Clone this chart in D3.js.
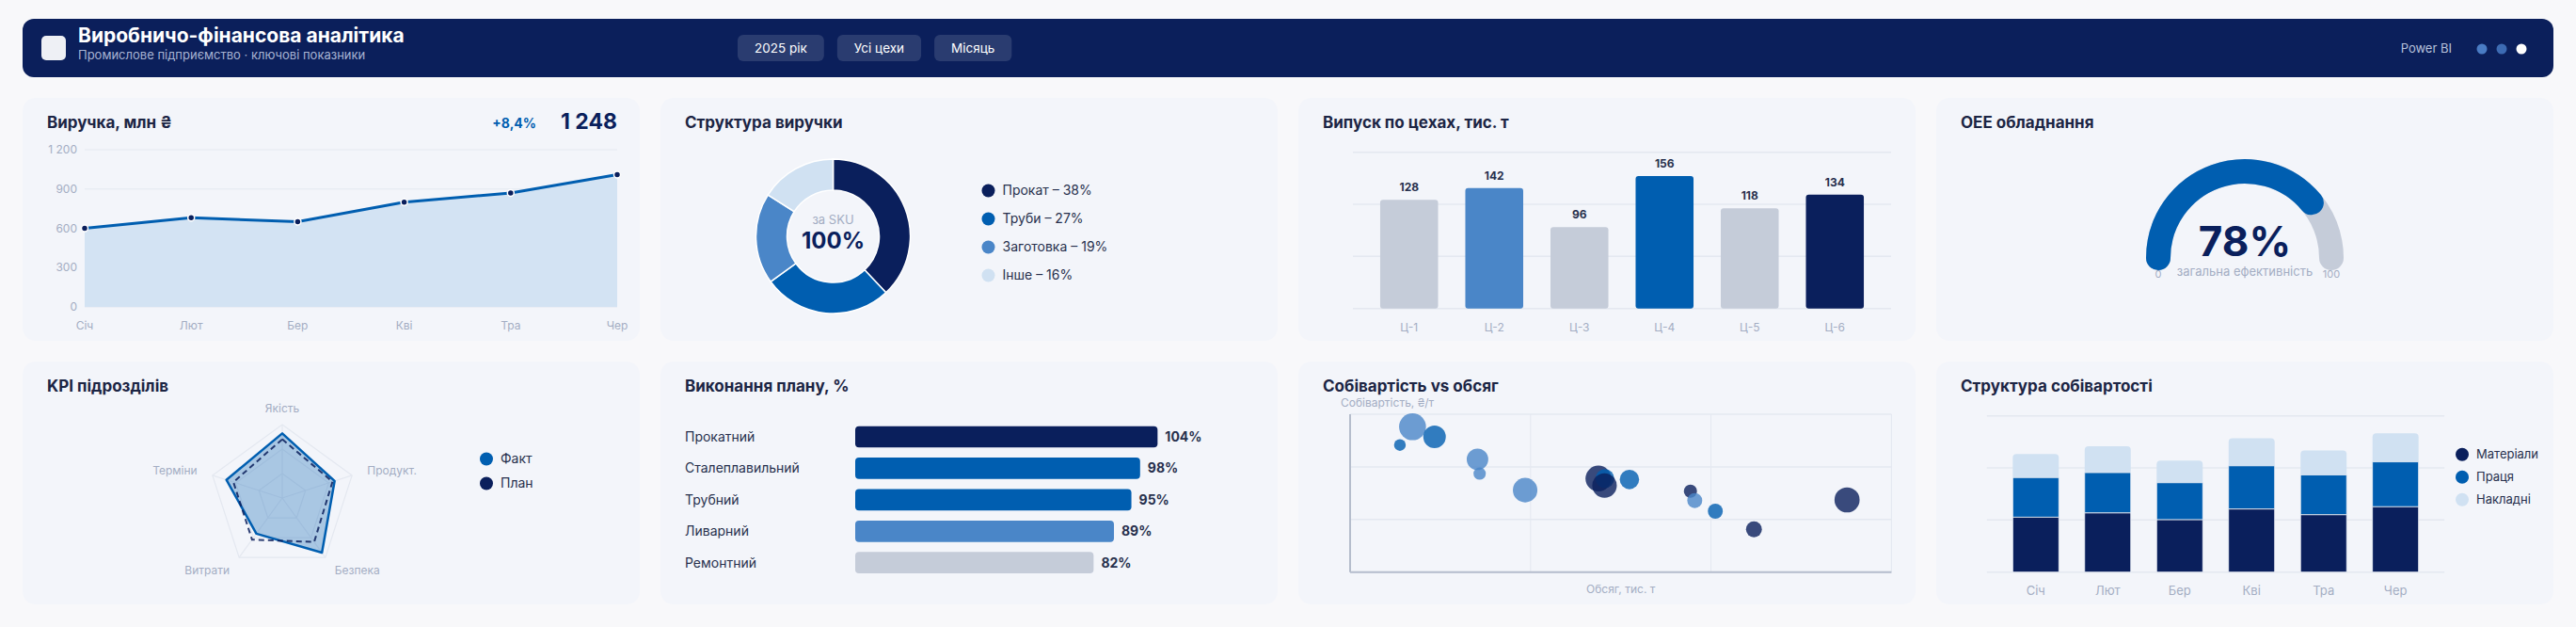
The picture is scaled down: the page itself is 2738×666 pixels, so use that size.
<!DOCTYPE html>
<html>
<head>
<meta charset="utf-8">
<script src="https://cdn.jsdelivr.net/npm/d3@7"></script>
<style>
  body { margin: 0; background: #f8f8fa; }
  text { font-family: Inter, "Noto Sans", sans-serif; }
</style>
</head>
<body>
<script>
// ---- data ----
var filters = ["2025 рік", "Усі цехи", "Місяць"];

var months = ["Січ", "Лют", "Бер", "Кві", "Тра", "Чер"];
var revenue = [600, 680, 650, 800, 870, 1010];
var revTicks = [0, 300, 600, 900, 1200];

var mixLabels = ["Прокат", "Труби", "Заготовка", "Інше"];
var mixShare = [38, 27, 19, 16];

var shops = ["Ц-1", "Ц-2", "Ц-3", "Ц-4", "Ц-5", "Ц-6"];
var shopOutput = [128, 142, 96, 156, 118, 134];

var oee = 78;

var kpiAxes = ["Якість", "Продукт.", "Безпека", "Витрати", "Терміни"];
var kpiFact = [88, 75, 92, 60, 80];
var kpiPlan = [80, 72, 74, 70, 70];

var depts = ["Прокатний", "Сталеплавильний", "Трубний", "Ливарний", "Ремонтний"];
var planDone = [104, 98, 95, 89, 82];

// bubbles: volume (тис. т), cost (₴/т), weight, group
var bubVolume = [17.3, 23.4, 13.8, 35.3, 35.9, 48.5, 68.8, 70.6, 70.5, 77.4, 94.3, 95.5, 101.2, 111.9, 137.7];
var bubCost   = [21050, 20280, 19660, 18570, 17490, 16230, 17110, 17110, 16580, 17040, 16150, 15440, 14630, 13250, 15490];
var bubWeight = [100, 70, 19, 64, 21, 83, 92, 49, 83, 52, 24, 31, 31, 35, 87];
var bubGroup  = [0, 1, 1, 0, 0, 0, 2, 1, 2, 1, 2, 0, 1, 2, 2];

var costSeries = ["Матеріали", "Праця", "Накладні"];
var costMaterials = [211, 227, 201, 242, 220, 251];
var costLabor     = [152, 155, 142, 166, 153, 172];
var costOverhead  = [90, 101, 85, 106, 94, 110];

// ---- palette ----
var NAVY = "#0a1f5c", BLUE = "#005eb0", MID = "#4a86c8", PALE = "#d0e1f2", GREY = "#c5ccd9";
var TITLE = "#1c2544", MUTED = "#a3adc3", TEXT = "#27304d", GRID = "#e4e8f0";

var W = 2738, H = 666;
var svg = d3.select("body").append("svg").attr("width", W).attr("height", H);

// ---- header ----
svg.append("rect").attr("x", 24).attr("y", 20).attr("width", 2690).attr("height", 62)
  .attr("rx", 12).attr("fill", "#0b1f5b");
svg.append("rect").attr("x", 44).attr("y", 38).attr("width", 26).attr("height", 26)
  .attr("rx", 5).attr("fill", "#eef0f5");
svg.append("text").attr("x", 83).attr("y", 45).attr("fill", "#fff")
  .attr("font-size", 21).attr("font-weight", 700).text("Виробничо-фінансова аналітика");
svg.append("text").attr("x", 83).attr("y", 63).attr("fill", "#a8b4d3")
  .attr("font-size", 13).text("Промислове підприємство · ключові показники");

var px = 784;
filters.forEach(function(f) {
  var g = svg.append("g");
  var r = g.append("rect").attr("y", 37).attr("height", 28).attr("rx", 6)
    .attr("fill", "rgba(255,255,255,0.13)");
  var t = g.append("text").attr("y", 56).attr("fill", "#fff").attr("font-size", 13.5)
    .attr("text-anchor", "middle").text(f);
  var tw = t.node().getComputedTextLength() + 36;
  r.attr("x", px).attr("width", tw);
  t.attr("x", px + tw / 2);
  px += tw + 14;
});

svg.append("text").attr("x", 2606).attr("y", 56).attr("text-anchor", "end")
  .attr("fill", "#b8c2dc").attr("font-size", 13).text("Power BI");
svg.selectAll("circle.hd").data(["#4a7cc4", "#3d6bb3", "#ffffff"]).enter()
  .append("circle").attr("class", "hd")
  .attr("cx", function(d, i) { return 2638 + i * 21; }).attr("cy", 52).attr("r", 5.5)
  .attr("fill", function(d) { return d; });

// ---- cards ----
var colX = [24, 702, 1380, 2058], rowY = [104, 384], CW = 656, CH = 258;
function card(col, row, title) {
  var g = svg.append("g").attr("transform", "translate(" + colX[col] + "," + rowY[row] + ")");
  g.append("rect").attr("width", CW).attr("height", CH).attr("rx", 14).attr("fill", "#f3f5fa");
  g.append("text").attr("x", 26).attr("y", 32).attr("fill", TITLE)
    .attr("font-size", 17).attr("font-weight", 700).text(title);
  return g;
}
function legend(g, x, y, step, labels, colors, size) {
  labels.forEach(function(l, i) {
    g.append("circle").attr("cx", x).attr("cy", y + i * step).attr("r", 7).attr("fill", colors[i]);
    g.append("text").attr("x", x + 15).attr("y", y + i * step).attr("dy", "0.35em")
      .attr("fill", TEXT).attr("font-size", size).text(l);
  });
}

// 1. revenue line
(function() {
  var g = card(0, 0, "Виручка, млн ₴");
  g.append("text").attr("x", 546).attr("y", 32).attr("text-anchor", "end")
    .attr("fill", BLUE).attr("font-size", 14).attr("font-weight", 700).text("+8,4%");
  g.append("text").attr("x", 632).attr("y", 33).attr("text-anchor", "end")
    .attr("fill", NAVY).attr("font-size", 23).attr("font-weight", 700).text("1 248");

  var x = d3.scalePoint().domain(months).range([66, 632]);
  var y = d3.scaleLinear().domain([0, 1200]).range([222, 55]);

  g.selectAll("line.grid").data(revTicks).enter().append("line")
    .attr("x1", 66).attr("x2", 632).attr("y1", y).attr("y2", y)
    .attr("stroke", GRID).attr("stroke-width", 1);
  g.selectAll("text.yt").data(revTicks).enter().append("text")
    .attr("x", 58).attr("y", y).attr("dy", "0.35em").attr("text-anchor", "end")
    .attr("fill", MUTED).attr("font-size", 12)
    .text(function(d) { return d3.format(",")(d).replace(",", " "); });
  g.selectAll("text.xt").data(months).enter().append("text")
    .attr("x", x).attr("y", 246).attr("text-anchor", "middle")
    .attr("fill", MUTED).attr("font-size", 12).text(function(d) { return d; });

  var pts = months.map(function(m, i) { return [m, revenue[i]]; });
  g.append("path").datum(pts).attr("fill", "#d3e3f3")
    .attr("d", d3.area().x(function(d) { return x(d[0]); }).y0(y(0)).y1(function(d) { return y(d[1]); }));
  g.append("path").datum(pts).attr("fill", "none").attr("stroke", BLUE).attr("stroke-width", 3)
    .attr("d", d3.line().x(function(d) { return x(d[0]); }).y(function(d) { return y(d[1]); }));
  g.selectAll("circle.pt").data(pts).enter().append("circle")
    .attr("cx", function(d) { return x(d[0]); }).attr("cy", function(d) { return y(d[1]); })
    .attr("r", 3.5).attr("fill", NAVY).attr("stroke", "#fff").attr("stroke-width", 1.5);
})();

// 2. revenue mix donut
(function() {
  var g = card(1, 0, "Структура виручки");
  var colors = [NAVY, BLUE, MID, PALE];
  var c = g.append("g").attr("transform", "translate(183.5,147)");
  var pie = d3.pie().sort(null).value(function(d) { return d; });
  var arc = d3.arc().innerRadius(49).outerRadius(82);
  c.selectAll("path").data(pie(mixShare)).enter().append("path")
    .attr("d", arc).attr("fill", function(d, i) { return colors[i]; })
    .attr("stroke", "#fff").attr("stroke-width", 1.5);
  c.append("text").attr("y", -13).attr("text-anchor", "middle").attr("fill", MUTED)
    .attr("font-size", 13).text("за SKU");
  c.append("text").attr("y", 13).attr("text-anchor", "middle").attr("fill", NAVY)
    .attr("font-size", 24).attr("font-weight", 700).text("100%");
  legend(g, 348.5, 98.5, 30, mixLabels.map(function(l, i) { return l + " – " + mixShare[i] + "%"; }), colors, 14);
})();

// 3. output by shop
(function() {
  var g = card(2, 0, "Випуск по цехах, тис. т");
  var colors = [GREY, MID, GREY, BLUE, GREY, NAVY];
  var x = d3.scaleBand().domain(shops).range([58, 630]).padding(0.32);
  var yMax = d3.max(shopOutput) * 1.18;
  var y = d3.scaleLinear().domain([0, yMax]).range([223.7, 57.7]);
  g.selectAll("line.grid").data([0, 1, 2, 3]).enter().append("line")
    .attr("x1", 58).attr("x2", 630)
    .attr("y1", function(k) { return y(yMax * k / 3); }).attr("y2", function(k) { return y(yMax * k / 3); })
    .attr("stroke", GRID).attr("stroke-width", 1.5);
  g.selectAll("rect.bar").data(shopOutput).enter().append("rect")
    .attr("x", function(d, i) { return x(shops[i]); }).attr("width", x.bandwidth())
    .attr("y", function(d) { return y(d); }).attr("height", function(d) { return y(0) - y(d); })
    .attr("rx", 3).attr("fill", function(d, i) { return colors[i]; });
  g.selectAll("text.val").data(shopOutput).enter().append("text")
    .attr("x", function(d, i) { return x(shops[i]) + x.bandwidth() / 2; })
    .attr("y", function(d) { return y(d) - 9; }).attr("text-anchor", "middle")
    .attr("fill", TEXT).attr("font-size", 12).attr("font-weight", 700).text(function(d) { return d; });
  g.selectAll("text.xt").data(shops).enter().append("text")
    .attr("x", function(d) { return x(d) + x.bandwidth() / 2; }).attr("y", 248)
    .attr("text-anchor", "middle").attr("fill", MUTED).attr("font-size", 12).text(function(d) { return d; });
})();

// 4. OEE gauge
(function() {
  var g = card(3, 0, "OEE обладнання");
  var c = g.append("g").attr("transform", "translate(328,170)");
  var a = d3.scaleLinear().domain([0, 100]).range([Math.PI, 2 * Math.PI]);
  function arcPath(v0, v1) {
    var p = d3.path();
    p.arc(0, 0, 92, a(v0), a(v1));
    return p.toString();
  }
  c.append("path").attr("d", arcPath(0, 100)).attr("fill", "none").attr("stroke", GREY)
    .attr("stroke-width", 26).attr("stroke-linecap", "round");
  c.append("path").attr("d", arcPath(0, oee)).attr("fill", "none").attr("stroke", BLUE)
    .attr("stroke-width", 26).attr("stroke-linecap", "round");
  c.append("text").attr("y", -2).attr("text-anchor", "middle").attr("fill", NAVY)
    .attr("font-size", 44).attr("font-weight", 700).text(oee + "%");
  c.append("text").attr("y", 19).attr("text-anchor", "middle").attr("fill", MUTED)
    .attr("font-size", 13).text("загальна ефективність");
  c.append("text").attr("x", -92).attr("y", 21).attr("text-anchor", "middle").attr("fill", MUTED)
    .attr("font-size", 11).text("0");
  c.append("text").attr("x", 92).attr("y", 21).attr("text-anchor", "middle").attr("fill", MUTED)
    .attr("font-size", 11).text("100");
})();

// 5. KPI radar
(function() {
  var g = card(0, 1, "KPI підрозділів");
  var c = g.append("g").attr("transform", "translate(276,145)");
  var r = d3.scaleLinear().domain([0, 100]).range([0, 78]);
  var ang = function(i) { return i * 2 * Math.PI / kpiAxes.length; };
  var radial = d3.lineRadial().angle(function(d, i) { return ang(i); })
    .radius(function(d) { return r(d); }).curve(d3.curveLinearClosed);

  [100 / 3, 200 / 3, 100].forEach(function(lv) {
    c.append("path").attr("d", radial(kpiAxes.map(function() { return lv; })))
      .attr("fill", "none").attr("stroke", GRID).attr("stroke-width", 1.2);
  });
  kpiAxes.forEach(function(k, i) {
    c.append("line").attr("x1", 0).attr("y1", 0)
      .attr("x2", Math.sin(ang(i)) * r(100)).attr("y2", -Math.cos(ang(i)) * r(100))
      .attr("stroke", GRID).attr("stroke-width", 1.2);
    var s = Math.sin(ang(i));
    c.append("text").attr("x", s * 95).attr("y", -Math.cos(ang(i)) * 95).attr("dy", "0.35em")
      .attr("text-anchor", Math.abs(s) < 0.1 ? "middle" : (s > 0 ? "start" : "end"))
      .attr("fill", MUTED).attr("font-size", 12).text(k);
  });
  c.append("path").attr("d", radial(kpiFact)).attr("fill", BLUE).attr("fill-opacity", 0.3)
    .attr("stroke", BLUE).attr("stroke-width", 2.5).attr("stroke-linejoin", "round");
  c.append("path").attr("d", radial(kpiPlan)).attr("fill", "none")
    .attr("stroke", NAVY).attr("stroke-opacity", 0.85).attr("stroke-width", 2)
    .attr("stroke-dasharray", "6,4");
  legend(g, 493, 103.5, 26, ["Факт", "План"], [BLUE, NAVY], 14);
})();

// 6. plan completion
(function() {
  var g = card(1, 1, "Виконання плану, %");
  var colors = [NAVY, BLUE, BLUE, MID, GREY];
  var y = d3.scaleBand().domain(depts).range([63.3, 230.4]).paddingInner(0.32).paddingOuter(0.16);
  var x = d3.scaleLinear().domain([0, 100]).range([0, 309]);
  var x0 = 207;
  g.selectAll("text.lab").data(depts).enter().append("text")
    .attr("x", 26).attr("y", function(d) { return y(d) + y.bandwidth() / 2; }).attr("dy", "0.35em")
    .attr("fill", TEXT).attr("font-size", 14).text(function(d) { return d; });
  g.selectAll("rect.bar").data(planDone).enter().append("rect")
    .attr("x", x0).attr("y", function(d, i) { return y(depts[i]); })
    .attr("width", function(d) { return x(d); }).attr("height", y.bandwidth())
    .attr("rx", 4).attr("fill", function(d, i) { return colors[i]; });
  g.selectAll("text.val").data(planDone).enter().append("text")
    .attr("x", function(d) { return x0 + x(d) + 8; })
    .attr("y", function(d, i) { return y(depts[i]) + y.bandwidth() / 2; }).attr("dy", "0.35em")
    .attr("fill", TEXT).attr("font-size", 14).attr("font-weight", 700).text(function(d) { return d + "%"; });
})();

// 7. cost vs volume bubbles
(function() {
  var g = card(2, 1, "Собівартість vs обсяг");
  var colors = [MID, BLUE, NAVY];
  var x = d3.scaleLinear().domain([0, 150]).range([55, 630.4]);
  var y = d3.scaleLinear().domain([10000, 22000]).range([223.7, 56]);
  var s = d3.scaleSqrt().domain([0, 100]).range([0, 14.3]);
  [0, 50, 100, 150].forEach(function(v) {
    g.append("line").attr("x1", x(v)).attr("x2", x(v)).attr("y1", y(10000)).attr("y2", y(22000))
      .attr("stroke", GRID).attr("stroke-width", 1);
  });
  [10000, 14000, 18000, 22000].forEach(function(v) {
    g.append("line").attr("x1", x(0)).attr("x2", x(150)).attr("y1", y(v)).attr("y2", y(v))
      .attr("stroke", GRID).attr("stroke-width", 1.5);
  });
  g.append("line").attr("x1", x(0)).attr("x2", x(0)).attr("y1", y(22000)).attr("y2", y(10000))
    .attr("stroke", "#b5bdcc").attr("stroke-width", 2);
  g.append("line").attr("x1", x(0)).attr("x2", x(150)).attr("y1", y(10000)).attr("y2", y(10000))
    .attr("stroke", "#b5bdcc").attr("stroke-width", 2);
  g.selectAll("circle.b").data(bubVolume).enter().append("circle")
    .attr("cx", function(d) { return x(d); })
    .attr("cy", function(d, i) { return y(bubCost[i]); })
    .attr("r", function(d, i) { return s(bubWeight[i]); })
    .attr("fill", function(d, i) { return colors[bubGroup[i]]; }).attr("fill-opacity", 0.8);
  g.append("text").attr("x", 45).attr("y", 48).attr("fill", MUTED).attr("font-size", 12)
    .text("Собівартість, ₴/т");
  g.append("text").attr("x", (x(0) + x(150)) / 2).attr("y", 246).attr("text-anchor", "middle")
    .attr("fill", MUTED).attr("font-size", 12).text("Обсяг, тис. т");
})();

// 8. cost structure stacked
(function() {
  var g = card(3, 1, "Структура собівартості");
  var colors = [NAVY, BLUE, PALE];
  var rows = months.map(function(m, i) {
    return { m: m, a: costMaterials[i], b: costLabor[i], c: costOverhead[i] };
  });
  var stack = d3.stack().keys(["a", "b", "c"])(rows);
  var x = d3.scaleBand().domain(months).range([53.8, 540.2]).padding(0.36);
  var y = d3.scaleLinear().domain([0, 600]).range([223.7, 57.7]);
  [0, 200, 400, 600].forEach(function(v) {
    g.append("line").attr("x1", 53.8).attr("x2", 540.2).attr("y1", y(v)).attr("y2", y(v))
      .attr("stroke", GRID).attr("stroke-width", 1.5);
  });
  // top layer first, rounded and pushed down under the next layer
  stack.slice().reverse().forEach(function(layer) {
    var top = layer.index === 2;
    g.selectAll(null).data(layer).enter().append("rect")
      .attr("x", function(d) { return x(d.data.m); }).attr("width", x.bandwidth())
      .attr("y", function(d) { return y(d[1]); })
      .attr("height", function(d) { return y(d[0]) - y(d[1]) + (top ? 5 : 0); })
      .attr("rx", top ? 4 : 0).attr("fill", colors[layer.index])
      .attr("stroke", top ? "none" : "#e8edf5").attr("stroke-width", 0.8);
  });
  g.selectAll("text.xt").data(months).enter().append("text")
    .attr("x", function(d) { return x(d) + x.bandwidth() / 2; }).attr("y", 248)
    .attr("text-anchor", "middle").attr("fill", MUTED).attr("font-size", 13).text(function(d) { return d; });
  legend(g, 559, 98.7, 24, costSeries, colors, 13);
})();
</script>
</body>
</html>
